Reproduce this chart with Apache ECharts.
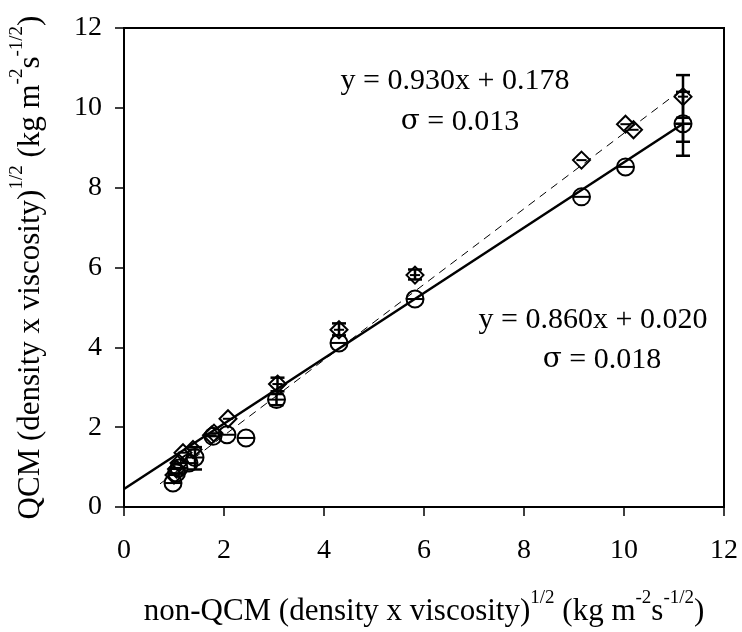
<!DOCTYPE html>
<html><head><meta charset="utf-8">
<script src="https://cdn.jsdelivr.net/npm/echarts@6/dist/echarts.min.js"></script>
<style>html,body{margin:0;padding:0;background:#fff}#c{width:742px;height:632px}</style>
</head><body><div id="c"></div>
<script>
// Diamond series (upper, dashed fit)
const diamondX = [1.0, 1.05, 1.1, 1.18, 1.38, 1.75, 1.8, 2.08, 3.07, 4.3, 5.82, 9.15, 10.03, 10.19, 11.18];
const diamondY = [0.8, 0.95, 1.1, 1.36, 1.44, 1.8, 1.85, 2.21, 3.08, 4.44, 5.81, 8.69, 9.59, 9.45, 10.28];
// Circle series (lower, solid fit)
const circleX = [0.98, 1.05, 1.1, 1.3, 1.42, 1.78, 2.06, 2.44, 3.05, 4.3, 5.82, 9.15, 10.03, 11.18];
const circleY = [0.6, 0.85, 0.98, 1.1, 1.24, 1.77, 1.81, 1.73, 2.69, 4.11, 5.21, 7.77, 8.52, 9.6];
// Error bars: [x, low, high]
const diamondErr = [[3.07, 2.9, 3.24], [4.3, 4.3, 4.6], [5.82, 5.7, 5.95], [11.18, 9.75, 10.82]];
const circleErr = [[1.42, 0.94, 1.5], [3.05, 2.55, 2.83], [11.18, 8.8, 10.4], [11.18, 9.15, 9.6]];
// Fit lines
const solidLine = [[0, 0.45], [11.18, 9.6]];
const dashedLine = [[0.72, 0.58], [11.2, 10.5]];
const xTicks = [0, 2, 4, 6, 8, 10, 12];
const yTicks = [0, 2, 4, 6, 8, 10, 12];

const FONT = 'Liberation Serif';
const chart = echarts.init(document.getElementById('c'), null, {renderer: 'canvas'});

function markerSeries(xs, ys, shape) {
  return {
    type: 'custom',
    data: xs.map((x, i) => [x, ys[i]]),
    renderItem: function (params, api) {
      const p = api.coord([api.value(0), api.value(1)]);
      const r = 8.5;
      const st = {stroke: '#000', lineWidth: 2, fill: 'rgba(255,255,255,0)'};
      const children = [];
      if (shape === 'circle') {
        children.push({type: 'circle', shape: {cx: p[0], cy: p[1], r: r}, style: st});
        children.push({type: 'line', shape: {x1: p[0] - r, y1: p[1], x2: p[0] + r, y2: p[1]}, style: {stroke: '#000', lineWidth: 2}});
      } else {
        children.push({type: 'polygon', shape: {points: [[p[0], p[1] - r], [p[0] + r, p[1]], [p[0], p[1] + r], [p[0] - r, p[1]]]}, style: st});
        children.push({type: 'line', shape: {x1: p[0] - r * 0.6, y1: p[1], x2: p[0] + r * 0.6, y2: p[1]}, style: {stroke: '#000', lineWidth: 2}});
      }
      return {type: 'group', children: children};
    },
    z: 5
  };
}

function errSeries(errs) {
  return {
    type: 'custom',
    data: errs,
    renderItem: function (params, api) {
      const lo = api.coord([api.value(0), api.value(1)]);
      const hi = api.coord([api.value(0), api.value(2)]);
      const w = 7;
      const s = {stroke: '#000', lineWidth: 2.5};
      return {type: 'group', children: [
        {type: 'line', shape: {x1: lo[0], y1: lo[1], x2: hi[0], y2: hi[1]}, style: s},
        {type: 'line', shape: {x1: lo[0] - w, y1: lo[1], x2: lo[0] + w, y2: lo[1]}, style: s},
        {type: 'line', shape: {x1: hi[0] - w, y1: hi[1], x2: hi[0] + w, y2: hi[1]}, style: s}
      ]};
    },
    z: 4
  };
}

const titleRich = {
  n: {fontFamily: FONT, fontSize: 31, color: '#000', lineHeight: 38, verticalAlign: 'bottom'},
  s: {fontFamily: FONT, fontSize: 19, color: '#000', lineHeight: 38, verticalAlign: 'top'}
};
const sigmaRich = {
  g: {fontFamily: 'DejaVu Serif', fontSize: 28, color: '#000'},
  t: {fontFamily: FONT, fontSize: 30, color: '#000'}
};

chart.setOption({
  animation: false,
  backgroundColor: '#fff',
  grid: {left: 120.5, right: 18, top: 28, bottom: 124.5, show: true, borderColor: '#000', borderWidth: 2},
  xAxis: {
    type: 'value', min: 0, max: 12, interval: 2,
    axisLine: {show: true, onZero: false, lineStyle: {color: '#000', width: 2}},
    axisTick: {show: true, inside: false, length: 9, lineStyle: {color: '#000', width: 1.5}},
    splitLine: {show: false},
    axisLabel: {fontFamily: FONT, fontSize: 28, color: '#000', margin: 30,
      formatter: v => xTicks.includes(v) ? String(v) : ''},
    name: '{n|non-QCM (density x viscosity)}{s|1/2}{n| (kg m}{s|-2}{n|s}{s|-1/2}{n|)}',
    nameLocation: 'middle', nameGap: 82,
    nameTextStyle: {rich: titleRich}
  },
  yAxis: {
    type: 'value', min: 0, max: 12, interval: 2,
    axisLine: {show: true, onZero: false, lineStyle: {color: '#000', width: 2}},
    axisTick: {show: true, inside: false, length: 9, lineStyle: {color: '#000', width: 1.5}},
    splitLine: {show: false},
    axisLabel: {fontFamily: FONT, fontSize: 28, color: '#000', margin: 22,
      formatter: v => yTicks.includes(v) ? String(v) : ''},
    name: '{n|QCM (density x viscosity)}{s|1/2}{n| (kg m}{s|-2}{n|s}{s|-1/2}{n|)}',
    nameLocation: 'middle', nameGap: 78, nameRotate: 90,
    nameTextStyle: {rich: titleRich}
  },
  series: [
    {type: 'line', data: solidLine, symbol: 'none', lineStyle: {color: '#000', width: 2.5}, z: 3},
    {type: 'line', data: dashedLine, symbol: 'none', lineStyle: {color: '#000', width: 1, type: [8, 6]}, z: 3},
    errSeries(diamondErr),
    errSeries(circleErr),
    markerSeries(diamondX, diamondY, 'diamond'),
    markerSeries(circleX, circleY, 'circle')
  ],
  graphic: [
    {type: 'text', x: 455, y: 81, style: {text: 'y = 0.930x + 0.178', fontFamily: FONT, fontSize: 30, fill: '#000', align: 'center', verticalAlign: 'middle'}},
    {type: 'text', x: 460, y: 122, style: {text: '{g|σ}{t| = 0.013}', rich: sigmaRich, align: 'center', verticalAlign: 'middle'}},
    {type: 'text', x: 593, y: 320, style: {text: 'y = 0.860x + 0.020', fontFamily: FONT, fontSize: 30, fill: '#000', align: 'center', verticalAlign: 'middle'}},
    {type: 'text', x: 602, y: 360, style: {text: '{g|σ}{t| = 0.018}', rich: sigmaRich, align: 'center', verticalAlign: 'middle'}}
  ]
});
</script></body></html>
